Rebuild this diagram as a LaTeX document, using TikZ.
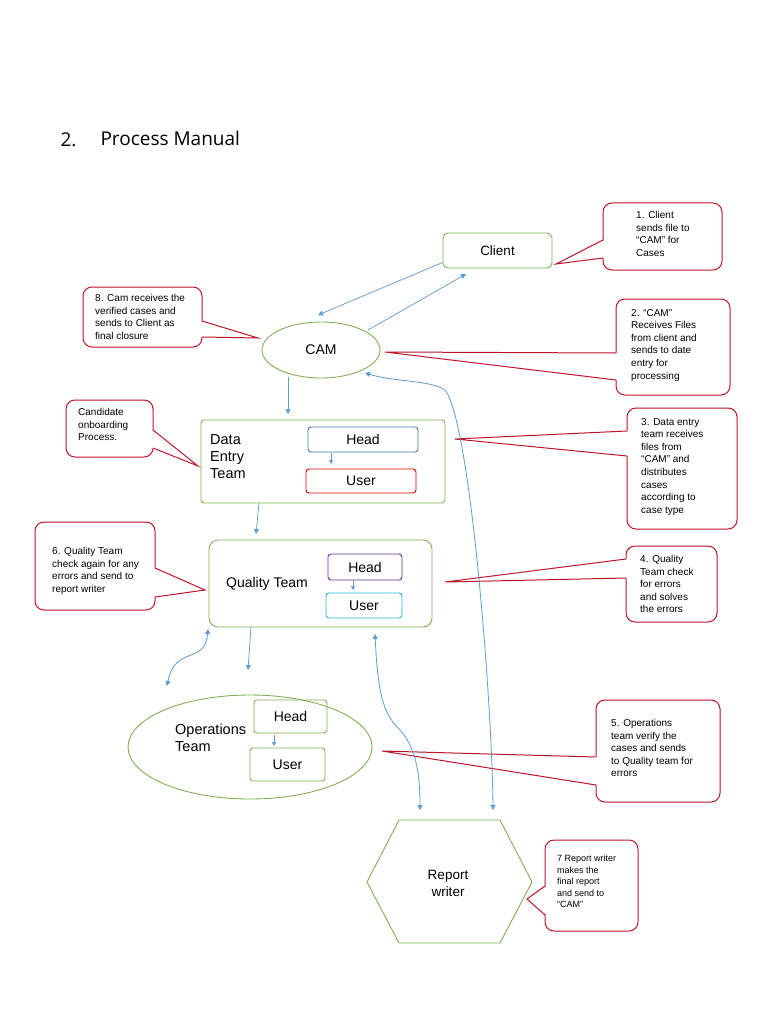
\documentclass[tikz,border=0pt]{standalone}
\usepackage{fontspec}
\setmainfont{Liberation Sans}
\newfontfamily\titlefont{Open Sans}
\usetikzlibrary{shapes.geometric,arrows.meta}
\definecolor{gr}{RGB}{128,176,84}
\definecolor{rd}{RGB}{190,20,40}
\definecolor{bl}{RGB}{95,155,212}
\definecolor{pu}{RGB}{112,48,160}
\definecolor{cy}{RGB}{40,180,220}
\definecolor{hb}{RGB}{70,120,190}
\begin{document}
\begin{tikzpicture}[x=1pt,y=-1pt,
  gbox/.style={draw=gr,line width=0.9pt,rounded corners=5pt},
  cbox/.style={draw=rd,fill=white,line width=1pt,rounded corners=9pt},
  ctext/.style={anchor=north west,align=left,font=\fontsize{10}{12.6}\selectfont,inner sep=0pt},
  arr/.style={draw=bl,line width=0.7pt,-{Triangle[width=5pt,length=5pt]}},
  darr/.style={draw=bl,line width=0.8pt,{Triangle[width=5pt,length=5pt]}-{Triangle[width=5pt,length=5pt]}},
  inbox/.style={draw,line width=0.9pt,rounded corners=3pt,font=\fontsize{14}{16}\selectfont}]
\useasboundingbox (0,0) rectangle (768,1024);
\fill[white] (0,0) rectangle (768,1024);
% title
\node[anchor=west,font=\titlefont\fontsize{19}{22}\selectfont] (num) at (57,140) {2.};
\node[anchor=west,font=\titlefont\fontsize{19}{22}\selectfont] (title) at (97,138) {Process Manual};
% Client
\node[gbox,minimum width=109pt,minimum height=35pt,font=\fontsize{13.5}{15}\selectfont] (client) at (497.5,250.5) {Client};
% callout 1
\draw[cbox] (603,203) rectangle (722,270);
\fill[white] (604.5,240) -- (556,264) -- (604.5,258) -- cycle;
\draw[rd,line width=1pt] (603,240) -- (556,264) -- (603,258);
\node[ctext] (c1) at (636,211) {1. Client\\sends file to\\“CAM” for\\Cases};
% CAM
\node[ellipse,draw=gr,line width=0.9pt,minimum width=118pt,minimum height=56pt,font=\fontsize{14}{16}\selectfont] (cam) at (321,350) {CAM};
% callout 8
\draw[cbox] (83,287) rectangle (202,347);
\fill[white] (200.5,321) -- (258,338) -- (200.5,337) -- cycle;
\draw[rd,line width=1pt] (202,321) -- (258,338) -- (202,337);
\node[ctext] (c8) at (95,294) {8. Cam receives the\\verified cases and\\sends to Client as\\final closure};
% client-cam arrows
\draw[arr] (client.south west) ++(0,-6) -- (318,315);
\draw[arr] (368,330) -- (466,274);
% callout 2
\draw[cbox] (616,299) rectangle (730,395);
\fill[white] (617.5,353) -- (385,352) -- (617.5,380) -- cycle;
\draw[rd,line width=1pt] (616,353) -- (385,352) -- (616,380);
\node[ctext] (c2) at (631,309) {2. “CAM”\\Receives Files\\from client and\\sends to date\\entry for\\processing};
% Data entry
\draw[gbox,rounded corners=3pt] (201,420) rectangle (445,503);
\node[anchor=north west,align=left,inner sep=0pt,font=\fontsize{14.5}{17}\selectfont] (detxt) at (210,434) {Data\\Entry\\Team};
\node[inbox,draw=hb,minimum width=110pt,minimum height=25pt] (dehead) at (363,439.5) {Head};
\node[inbox,draw=red!85!black,minimum width=110pt,minimum height=24pt] (deuser) at (361,481) {User};
\draw[arr,line width=0.5pt,-{Triangle[width=4pt,length=4pt]}] (331,453) -- (331,464);
\draw[arr] (288,377) -- (288,414);
% candidate callout
\draw[cbox] (66,400) rectangle (153,457);
\fill[white] (151.5,430) -- (198,466) -- (151.5,448) -- cycle;
\draw[rd,line width=1pt] (153,430) -- (198,466) -- (153,448);
\node[ctext] (cc) at (78,408) {Candidate\\onboarding\\Process.};
% callout 3
\draw[cbox] (627,408) rectangle (737,529);
\fill[white] (628.5,431) -- (455,439) -- (628.5,456) -- cycle;
\draw[rd,line width=1pt] (627,431) -- (455,439) -- (627,456);
\node[ctext] (c3) at (641,418) {3. Data entry\\team receives\\files from\\“CAM” and\\distributes\\cases\\according to\\case type};
% Quality
\draw[arr] (259,503) -- (256,534);
\draw[gbox,rounded corners=9pt] (209,540) rectangle (432,627);
\node[font=\fontsize{14}{16}\selectfont] (qtxt) at (267,584) {Quality Team};
\node[inbox,draw=pu,minimum width=74pt,minimum height=26pt] (qhead) at (365,567) {Head};
\node[inbox,draw=cy,minimum width=76pt,minimum height=25pt] (quser) at (364,605.5) {User};
\draw[arr,line width=0.5pt,-{Triangle[width=4pt,length=4pt]}] (353,580) -- (353,590);
% callout 6
\draw[cbox] (35,522) rectangle (155,610);
\fill[white] (153.5,568) -- (205,590) -- (153.5,597) -- cycle;
\draw[rd,line width=1pt] (155,568) -- (205,590) -- (155,597);
\node[ctext] (c6) at (52,547) {6. Quality Team\\check again for any\\errors and send to\\report writer};
% callout 4
\draw[cbox] (626,546) rectangle (717,622);
\fill[white] (627.5,559) -- (445,582) -- (627.5,578) -- cycle;
\draw[rd,line width=1pt] (626,559) -- (445,582) -- (626,578);
\node[ctext] (c4) at (640,555) {4. Quality\\Team check\\for errors\\and solves\\the errors};
% Operations
\node[ellipse,draw=gr,line width=0.9pt,minimum width=244pt,minimum height=104pt] (ops) at (250,747) {};
\node[anchor=north west,align=left,inner sep=0pt,font=\fontsize{14.5}{17}\selectfont] (otxt) at (175,724) {Operations\\Team};
\node[inbox,draw=gr,minimum width=73pt,minimum height=33pt] (ohead) at (290.5,716.5) {Head};
\node[inbox,draw=gr,minimum width=75pt,minimum height=33pt] (ouser) at (287.5,764.5) {User};
\draw[arr,line width=0.5pt,-{Triangle[width=4pt,length=4pt]}] (274,735) -- (274,746);
\draw[arr] (251,627) -- (248,670);
\draw[darr] (208,629) .. controls (205,665) and (175,645) .. (167,686);
% callout 5
\draw[cbox] (596,700) rectangle (720,802);
\fill[white] (597.5,757) -- (382,751) -- (597.5,785) -- cycle;
\draw[rd,line width=1pt] (596,757) -- (382,751) -- (596,785);
\node[ctext] (c5) at (611,719) {5. Operations\\team verify the\\cases and sends\\to Quality team for\\errors};
% Report writer
\draw[draw=gr,line width=0.9pt] (399,820) -- (500,820) -- (532,882) -- (500,943) -- (399,943) -- (367,882) -- cycle;
\node[align=center,font=\fontsize{13.5}{17}\selectfont] (rw) at (448,883) {Report\\writer};
\coordinate (rwa) at (420,810);
\coordinate (rwb) at (493,810);
\draw[darr] (375,634) .. controls (378,700) and (385,715) .. (400,730) .. controls (418,750) and (420,780) .. (rwa);
\draw[darr] (365,373) .. controls (395,382) and (430,380) .. (445,390) .. controls (470,420) and (492,700) .. (rwb);
% callout 7
\draw[cbox] (545,840) rectangle (638,931);
\fill[white] (546.5,886) -- (527,899) -- (546.5,915) -- cycle;
\draw[rd,line width=1pt] (545,886) -- (527,899) -- (545,915);
\node[ctext,font=\fontsize{9}{11.5}\selectfont] (c7) at (557,855) {7 Report writer\\makes the\\final report\\and send to\\“CAM”};
\end{tikzpicture}
\end{document}
